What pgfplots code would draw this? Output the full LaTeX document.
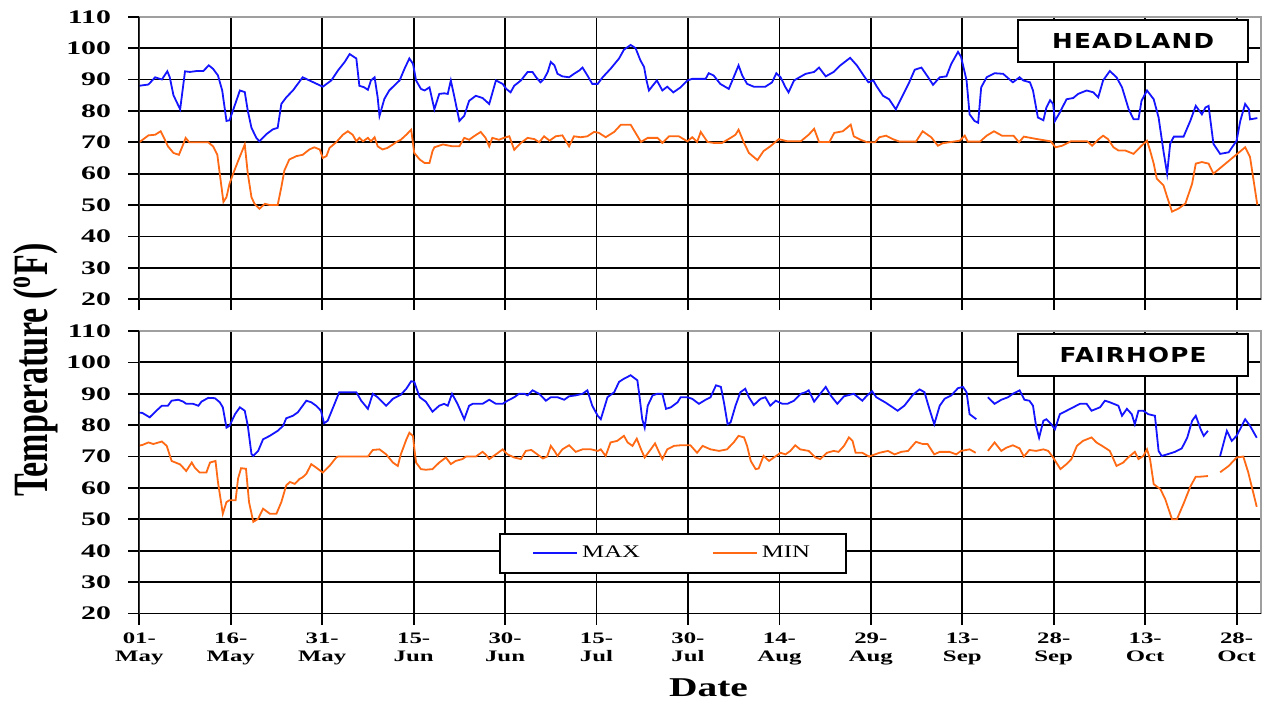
\documentclass[border=0pt]{standalone}
\usepackage{fontspec}
\usepackage{graphicx}
\usepackage{pgfplots}
\pgfplotsset{compat=1.18}
\setmainfont{Liberation Serif}
\newfontfamily\tickfam{Liberation Serif}[FakeStretch=1.55]
\newfontfamily\legfam{Liberation Serif}[FakeStretch=1.4]
\newfontfamily\datefam{Liberation Serif}[FakeStretch=1.45]
\newfontfamily\titfam{DejaVu Sans}[FakeStretch=1.2, LetterSpace=6]
\definecolor{maxc}{RGB}{20,20,255}
\definecolor{minc}{RGB}{255,105,20}
\pgfplotsset{geom/.style={
  scale only axis, width=560.85pt, height=141.25pt,
  xmin=0, xmax=184, ymin=20, ymax=110,
  xtick={0,15,...,180}, ytick={20,30,...,110}},
  gridonly/.style={geom,
  xmajorgrids=true, ymajorgrids=true,
  grid style={black, line width=0.9pt},
  xticklabels={}, yticklabels={}, major tick length=0pt,
  axis line style={draw=none}, tick style={draw=none}},
  panel/.style={geom,
  axis line style={gray!75, line width=0.8pt},
  tick align=outside, tick pos=left,
  major tick length=5.5pt,
  tick style={black, line width=0.9pt},
  /pgf/number format/assume math mode=true,
  yticklabel style={font=\tickfam\bfseries\fontsize{9.6}{10}\selectfont, inner sep=0pt, xshift=-8.5pt},
  unbounded coords=jump,
}}
\begin{document}
\begin{tikzpicture}[x=1pt,y=1pt]
\useasboundingbox (0,0) rectangle (633,351.5);
% grids first
\begin{axis}[gridonly, at={(69.65pt,201.9pt)}, anchor=south west]
\end{axis}
\begin{axis}[gridonly, at={(69.65pt,44.75pt)}, anchor=south west]
\end{axis}
% ---------------- HEADLAND ----------------
\begin{axis}[panel, at={(69.65pt,201.9pt)}, anchor=south west, xticklabels={}]
\addplot[maxc, line width=0.9pt] coordinates {(0,88) (1.5,88.4) (2.6,90.7) (3.7,90) (4.6,92.6) (5,90.7) (5.6,85) (6.7,80.5) (7.5,92.6) (8.3,92.4) (9.4,92.7) (10.5,92.7) (11.4,94.5) (12.1,93.4) (12.9,91.3) (13.6,86.5) (14.3,76.8) (14.8,77) (15.7,82) (16.5,86.5) (17.3,86) (17.8,80) (18.4,74.6) (19.2,71.4) (19.7,70.3) (20.8,72.5) (21.9,74.1) (22.7,74.6) (23.3,82.2) (24.1,84.3) (25.2,86.5) (26.8,90.7) (27.9,89.7) (30.1,87.7) (31.5,89.7) (32.6,92.9) (33.7,95.6) (34.5,98.1) (35.6,96.7) (36.1,88) (36.9,87.5) (37.5,86.7) (38,89.7) (38.6,90.7) (39.1,84.3) (39.4,78.4) (40.2,83.8) (41,86.5) (42.1,88.6) (42.7,89.7) (43.5,93.4) (44.3,96.7) (44.9,95) (45.4,89.7) (46.2,87) (46.8,86.5) (47.6,87.5) (48.4,80.5) (49.2,85.4) (50,85.6) (50.6,85.4) (51.1,89.7) (51.7,84.3) (52.5,76.8) (53.3,78.4) (54.1,83.2) (55.2,84.8) (56.3,84.1) (57.4,82.2) (58.5,89.7) (59.6,88.6) (60.2,87) (60.9,85.9) (61.5,88) (62.6,89.7) (63.7,92.4) (64.5,92.4) (65.1,90.7) (65.8,89.1) (66.4,90.2) (67,92.4) (67.5,95.6) (68.1,94.5) (68.6,91.8) (69.4,91) (70.5,90.7) (71.3,91.8) (72.2,92.9) (72.7,93.8) (73.5,91.3) (74.3,88.6) (75.2,88.6) (76,90.7) (77.3,93.4) (78.7,96.7) (79.5,99.5) (80.6,101) (81.4,100) (82.2,96.1) (82.8,94) (83.2,89.7) (83.6,86.5) (84.2,88) (84.9,89.7) (85.8,86.5) (86.6,87.7) (87.6,85.9) (88.8,87.5) (89.9,89.7) (90.7,90.2) (92.9,90.2) (93.4,92) (94.2,91.3) (95.3,88.6) (96.7,87) (97.5,90.7) (98.3,94.5) (98.9,91.3) (99.7,88.6) (100.8,87.7) (102.7,87.7) (103.8,89.1) (104.5,92) (105.2,90.7) (106,87.5) (106.5,85.9) (107.4,89.7) (108.3,90.7) (109.3,91.8) (110.7,92.4) (111.5,93.8) (112.6,91) (113.9,92.4) (115,94.5) (116.6,96.9) (117.7,94.5) (118.8,91.3) (119.6,89.1) (120.4,89.7) (120.9,88) (122,84.8) (123,83.7) (124.1,80.5) (125.2,84.8) (126.3,89.1) (127.2,93.1) (128.3,93.8) (129.4,90.7) (130.2,88.3) (131.3,90.7) (132.4,91) (133.2,95) (134.3,98.8) (134.8,97.2) (135.7,89.7) (136.2,78.9) (137,76.8) (137.6,76.2) (138.1,87.5) (139,90.7) (140.3,92) (141.7,91.8) (143.3,89.1) (144.4,90.7) (145,89.7) (146.1,89.1) (146.6,86.5) (147.4,77.9) (148.3,77) (148.8,81.1) (149.4,83.4) (149.9,82.2) (150.2,76.8) (151,79.5) (152.1,83.7) (153.2,84.1) (154,85.4) (155.4,86.5) (156.5,85.9) (157.3,84.3) (158.1,89.7) (159.2,92.7) (160.3,90.7) (161.2,87.5) (162.3,80.5) (163.1,77.3) (163.9,77.3) (164.4,83.2) (165.3,86.5) (166.4,83.7) (167.2,77.9) (168,67.2) (168.6,60) (169.1,69.5) (169.7,71.8) (171.3,71.8) (172.4,76.8) (173.3,81.6) (174.3,78.9) (174.9,81.1) (175.4,81.6) (176.2,69.5) (177.3,66.3) (178.7,66.8) (180,70.5) (180.6,76.8) (181.4,82.2) (182,80.6) (182.2,77.3) (183.4,77.7)};
\addplot[minc, line width=0.9pt] coordinates {(0,70) (1.5,72.2) (2.6,72.4) (3.5,73.5) (4.2,70.8) (4.7,68.7) (5.6,66.6) (6.5,66) (7.2,69.3) (7.6,71.4) (8.2,70) (11.3,70) (12.1,68.7) (12.8,66) (13.2,60) (13.8,51) (14.3,52.5) (14.8,56.8) (15.4,60) (16.2,64) (17.3,69.3) (17.8,60) (18.4,52.5) (18.9,50.4) (19.7,48.8) (20.6,50.4) (21.4,50) (22.7,50) (23.3,55.7) (23.8,61) (24.6,64.5) (25.8,65.6) (26.8,66) (27.9,67.7) (28.7,68.4) (29.6,67.7) (30.1,65) (30.7,65.6) (31.2,68.2) (32.3,70) (33.4,72.4) (34.2,73.5) (35,72.4) (35.6,70.3) (36.1,71.4) (36.7,70.3) (37.5,71.4) (38,70.3) (38.6,71.6) (39.1,68.7) (39.9,67.7) (40.7,68.2) (41.6,69.3) (42.1,70) (42.9,70.8) (43.8,72.4) (44.6,74) (45.1,66.6) (46,64.5) (46.8,63.4) (47.6,63.4) (48.1,67.2) (48.4,68.4) (49.8,69.3) (51.4,68.7) (52.5,68.7) (53.3,71.4) (54.1,70.8) (54.9,71.9) (56,73.3) (56.8,71.4) (57.4,68.7) (57.9,71.4) (59,70.8) (59.8,71.4) (60.7,71.9) (61.5,67.6) (62.6,69.8) (63.7,71.4) (64.8,71) (65.6,70) (66.4,71.9) (67.3,70.5) (68.3,71.9) (69.4,72.2) (70.5,68.7) (71.3,71.9) (72.4,71.6) (73.5,71.9) (74.6,73.3) (75.4,73) (76.5,71.6) (77.9,73.3) (79,75.6) (80.6,75.6) (81.4,73) (82.3,70.1) (83.4,71.4) (85,71.4) (85.8,69.8) (86.9,71.9) (88.5,71.9) (89.9,70.3) (90.7,71.6) (91.5,70.1) (92.1,73.3) (93.2,70.1) (94.2,69.8) (95.6,69.8) (97,71.4) (97.8,72.4) (98.3,74) (99.2,69.8) (100,66.6) (101.4,64.3) (102.4,67.2) (103.5,68.7) (104.9,71) (106.3,70.3) (108.5,70.3) (109.8,72.4) (110.7,74.3) (111.5,70.1) (113.2,70.1) (114,73) (115.4,73.5) (116.7,75.6) (117.2,71.9) (118.3,70.8) (119.4,70) (120.7,70) (121.4,71.6) (122.5,72.1) (123.6,71) (124.7,70.2) (127.4,70.2) (128.5,73.5) (129.9,71.6) (131,68.9) (131.8,69.7) (134.6,70.5) (135.4,72.1) (135.9,70.2) (137.9,70.2) (139,72.1) (140.2,73.5) (141.5,72.1) (143.4,72.1) (144.3,70) (145.1,71.8) (147.3,71) (149.5,70.3) (150.3,68.4) (151.4,68.9) (152.8,70.3) (155.5,70.3) (156.3,68.9) (157.4,71) (158.1,72.1) (158.9,71) (159.8,68.4) (160.6,67.4) (161.7,67.4) (163.1,66.3) (164.4,68.9) (165.3,70.5) (165.8,67.4) (166.4,63.2) (166.9,58.4) (168,56.3) (168.6,52.6) (169.4,47.9) (170.5,48.9) (171.6,50.5) (172.7,56.8) (173.3,63.2) (174.3,63.7) (175.4,63.2) (176.2,60) (181.4,68.4) (182.2,65.3) (183.4,50)};
\draw[black, line width=0.9pt] (rel axis cs:0,1) -- (rel axis cs:0,0) -- (rel axis cs:1,0);
\node[draw=black, line width=1pt, fill=white, minimum width=115pt, minimum height=20.8pt, inner sep=0pt, font=\titfam\bfseries\fontsize{10.3}{11}\selectfont] at (rel axis cs:0.886,0.915) {HEADLAND};
\end{axis}
% ---------------- FAIRHOPE ----------------
\begin{axis}[panel, at={(69.65pt,44.75pt)}, anchor=south west,
  xticklabels={{01-\\May},{16-\\May},{31-\\May},{15-\\Jun},{30-\\Jun},{15-\\Jul},{30-\\Jul},{14-\\Aug},{29-\\Aug},{13-\\Sep},{28-\\Sep},{13-\\Oct},{28-\\Oct}},
  xticklabel style={align=center, font=\tickfam\bfseries\fontsize{8}{9}\selectfont, inner sep=0pt, yshift=-4pt},
  legend columns=2,
  legend style={at={(0.476,0.213)}, anchor=center, draw=black, line width=1pt, inner xsep=16pt, inner ysep=4pt,
    font=\legfam\fontsize{8.85}{10}\selectfont, /tikz/every even column/.append style={column sep=34pt}},
  legend image code/.code={\draw[#1] (0pt,0pt) -- (22pt,0pt);},
]
\addplot[maxc, line width=0.9pt] coordinates {(0,84) (0.5,83.9) (1.7,82.5) (2.8,84.6) (3.7,86.2) (4.7,86.2) (5.3,87.8) (6.4,88.1) (7.2,87.5) (7.7,86.8) (8.8,86.8) (9.7,86.2) (10.2,87.5) (11.3,88.7) (12.4,88.6) (13.2,87.3) (13.7,85.7) (14.3,79.2) (14.8,79.8) (15.7,83.5) (16.5,85.7) (17.3,84.6) (17.8,79.8) (18.4,70.8) (18.7,70.2) (19.5,71.8) (20.3,75.5) (21.4,76.6) (22.7,78.2) (23.6,79.8) (24.1,82.2) (25.2,83) (26,84.1) (26.8,86.2) (27.4,87.8) (28.2,87.3) (29,86.2) (29.8,84.6) (30.3,80.6) (30.9,81.4) (31.8,85.7) (32.8,90.5) (33.9,90.5) (35.6,90.5) (36.4,87.8) (37.5,85.2) (38.3,90) (39.1,88.9) (40.5,86.2) (41.6,88.4) (42.9,89.7) (43.8,91.6) (44.6,94) (45.1,93.8) (46,88.9) (47,87.5) (48.1,84.3) (49.2,86.2) (50,86.8) (50.6,86.2) (51.3,90) (52.2,86.8) (53.3,81.9) (54.1,86.2) (54.7,86.8) (56.3,86.8) (57.4,88.1) (58.5,86.8) (59.6,86.8) (60.4,87.8) (61.5,88.9) (62.3,90) (63.2,90) (63.7,89.5) (64.5,91.1) (65.6,90) (66.7,87.8) (67.5,88.9) (68.6,88.9) (69.7,88.1) (70.5,89.2) (71.6,89.5) (72.7,90) (73.5,91.1) (74.3,86.2) (75.2,83) (75.7,81.9) (76.3,85.7) (76.8,88.9) (77.9,90.5) (78.7,93.8) (79.5,94.8) (80.6,95.9) (81.7,94.3) (82,90) (82.5,81.9) (82.9,79.2) (83.4,86.2) (84.2,89.5) (85,90) (85.8,90) (86.4,85.2) (87.2,85.7) (88.3,87.3) (88.8,88.9) (89.9,88.9) (90.7,88.4) (91.8,86.8) (92.9,88.1) (93.7,88.9) (94.6,92.7) (95.4,92.2) (95.9,87.3) (96.5,80.3) (97,80.9) (97.8,86.2) (98.6,90.5) (99.4,91.6) (100,88.9) (100.8,86.4) (101.9,88.4) (102.7,88.9) (103.5,86.2) (104.4,87.8) (105.5,86.8) (106.3,86.8) (107.4,87.8) (108.5,90) (109.3,90.5) (109.8,91.1) (110.7,87.5) (111.5,89.5) (112.6,92.2) (113.4,89.5) (114.5,86.8) (115.6,89.2) (117.2,90) (118.6,87.8) (119.4,89.5) (120.2,90.8) (120.9,88.9) (122.5,87.1) (124.4,84.6) (125.5,86.2) (126.9,89.7) (128,91.4) (128.8,90.5) (129.6,85.2) (130.4,80.3) (131.3,86.2) (132.1,88.4) (133.2,89.5) (134.3,91.8) (135.1,92.2) (135.7,90.5) (136.2,83.5) (137.3,81.9) (138,nan) (139.2,88.9) (140.3,86.8) (141.4,88.1) (142.5,88.9) (143.3,90) (144.4,91.1) (145.2,88.1) (146,87.8) (146.6,86.2) (147.1,79.8) (147.6,76) (148.3,81.4) (148.8,81.9) (149.6,80.3) (150.2,78.7) (151,83.5) (152.1,84.6) (153.2,85.7) (154.3,86.8) (155.4,86.8) (156.2,84.6) (157.6,85.7) (158.4,87.8) (159.2,87.3) (160.6,86.2) (161.2,83) (162,85.2) (162.8,83.5) (163.3,80.3) (163.9,84.6) (164.7,84.6) (165.5,83.5) (166.6,83) (167.2,71.8) (167.7,70.2) (168.6,70.7) (169.9,71.5) (171,72.6) (171.9,76) (172.7,81.4) (173.3,83) (174.1,78.7) (174.6,76.6) (175.3,78.2) (176,nan) (177.3,70.2) (178.4,78.2) (179.2,75) (180,76.6) (181.4,81.9) (182.2,79.8) (183.3,76)};
\addlegendentry{MAX}
\addplot[minc, line width=0.9pt] coordinates {(0,73.5) (0.5,73.7) (1.5,74.5) (2.3,74) (3.7,74.8) (4.5,73.4) (5.3,68.6) (6.7,67.5) (7.7,65.4) (8.6,68.1) (9.1,66.5) (9.9,64.9) (11,64.9) (11.6,68.1) (12.5,68.6) (12.9,61.9) (13.7,51.8) (14.3,55.5) (14.8,56.1) (15.8,56.1) (16.2,63) (16.7,66.3) (17.5,66.1) (18,55.5) (18.7,49.2) (19.5,50.2) (20.3,53.4) (21.4,51.8) (22.5,51.8) (23.3,55.5) (24.1,60.8) (24.7,61.9) (25.5,61.3) (26.3,62.9) (26.8,63.4) (27.4,64.5) (28.2,67.6) (29,66.5) (30.1,64.9) (31.2,67) (32.3,69.7) (32.6,70) (37.5,70) (38.3,72.1) (39.4,72.3) (40.5,70.7) (41.6,68.1) (42.4,67) (42.9,70.7) (43.8,75.4) (44.3,77.6) (44.9,76.5) (45.1,72.8) (45.4,68.1) (46.2,66) (47,65.8) (48.1,66) (49.2,68.1) (50.3,69.7) (51.1,67.6) (51.9,68.6) (53,69.2) (53.6,70) (55.2,70) (56.3,71.5) (56.8,70.7) (57.4,69.2) (58.5,70.7) (59.6,72.3) (60.4,70.7) (61.5,69.7) (62.6,69.2) (63.4,71.8) (64.3,72.1) (65.3,70.7) (66.2,69.4) (66.9,70) (67.5,73.4) (68.1,71.8) (68.6,70.2) (69.4,72.3) (70.5,73.6) (71.6,71.5) (72.7,72.3) (74.1,72.3) (75.2,71.8) (75.7,72.3) (76.5,70.2) (77.3,74.5) (78.4,75) (79.5,76.6) (80.1,74.5) (80.9,73.4) (81.6,75.7) (82.3,72.3) (82.9,69.7) (83.9,72.3) (84.6,74.2) (85.3,71.2) (85.8,69.2) (86.6,72.3) (87.7,73.4) (88.8,73.6) (90.4,73.6) (91.5,71.2) (92.4,73.4) (93.7,72.3) (95.1,71.8) (96.4,72.3) (97.5,74.5) (98.3,76.6) (99.2,76.1) (99.7,73.4) (100.3,68.6) (101.1,66) (101.6,66.2) (102.4,70.2) (103.3,68.6) (104.1,69.7) (105.2,71.2) (106,70.7) (106.8,71.8) (107.6,73.6) (108.4,72.3) (109.8,71.8) (110.9,69.7) (111.7,69.2) (112.8,71.2) (113.9,71.8) (114.7,71.5) (115.6,73.4) (116.4,76.1) (117,75) (117.5,71.2) (118.6,71.2) (119.7,70) (121.4,71.2) (122.8,71.8) (123.9,70.7) (125,71.5) (126.1,71.8) (127.4,74.7) (128.5,74) (129.3,74) (130.4,70.7) (131.3,71.5) (132.9,71.5) (134,70.7) (134.8,71.8) (136.2,72.3) (137.2,71.2) (138,nan) (139.2,71.8) (140.3,74.5) (141.4,71.8) (142.2,72.8) (143.3,73.6) (144.4,72.6) (145.1,70) (146,72.1) (147.1,71.8) (148.3,72.3) (149.1,71.8) (149.9,69.7) (151.1,66) (152.1,67.6) (152.9,69.2) (153.8,73.4) (154.8,75) (156.2,76.1) (157,74.5) (158.1,73.2) (159.2,71.8) (160.3,67) (161.4,68.1) (162.2,69.7) (163.3,71.5) (163.9,69.2) (164.7,70.2) (165.3,72.3) (165.8,69.2) (166.4,61.2) (167.5,59.6) (168.3,56.4) (169.4,50) (170.2,50) (171.3,55) (172.4,60.4) (173.3,63.6) (174.1,63.6) (175.3,63.8) (176,nan) (177.3,65) (178.7,67) (180,69.7) (181.1,70) (181.9,65) (183.3,54)};
\addlegendentry{MIN}
\draw[black, line width=0.9pt] (rel axis cs:0,1) -- (rel axis cs:0,0) -- (rel axis cs:1,0);
\node[draw=black, line width=1pt, fill=white, minimum width=115pt, minimum height=20.8pt, inner sep=0pt, font=\titfam\bfseries\fontsize{10.3}{11}\selectfont] at (rel axis cs:0.886,0.915) {FAIRHOPE};
\end{axis}
\node[rotate=90, font=\bfseries\fontsize{17}{18}\selectfont, inner sep=0pt] at (18pt,166.5pt) {\scalebox{1}[1.45]{Temperature (\textsuperscript{o}F)}};
\node[font=\datefam\bfseries\fontsize{13.6}{14}\selectfont, inner sep=0pt] at (354.25pt,7.5pt) {Date};
\end{tikzpicture}
\end{document}
